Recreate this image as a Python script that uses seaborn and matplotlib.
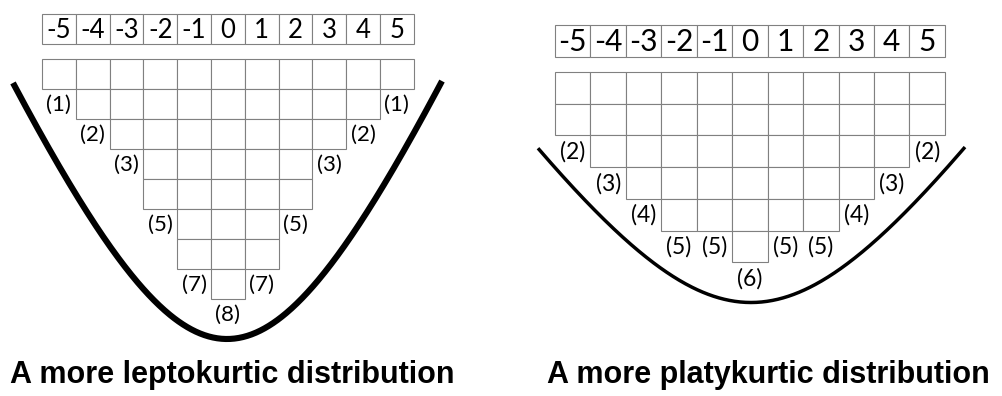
import numpy as np
import matplotlib
matplotlib.use("Agg")
import matplotlib.pyplot as plt
import seaborn as sns

# ---- data ----
scores = [-5, -4, -3, -2, -1, 0, 1, 2, 3, 4, 5]
lepto_counts = [1, 2, 3, 5, 7, 8, 7, 5, 3, 2, 1]
platy_counts = [2, 3, 4, 5, 5, 6, 5, 5, 4, 3, 2]
titles = ["A more leptokurtic distribution", "A more platykurtic distribution"]

sns.set_theme(style="white")
plt.rcParams['font.family'] = ['Lato', 'DejaVu Sans']

W, H = 1003, 396
fig = plt.figure(figsize=(W / 100, H / 100), dpi=100)
ax = fig.add_axes([0, 0, 1, 1])
ax.set_xlim(0, W)
ax.set_ylim(H, 0)
ax.axis("off")

EDGE = "#808080"

panels = [
    dict(counts=lepto_counts, x0=42, w=33.8, htop=14, hh=30, gtop=59.3, h=30,
         hfs=18.5, lfs=16, title=titles[0], tx=232,
         curve=dict(xl=13, xr=442, xm=227, ym=339, s=2.3, r=150, lw=4.4)),
    dict(counts=platy_counts, x0=555, w=35.45, htop=24.7, hh=32, gtop=72, h=31.7,
         hfs=21.5, lfs=16.5, title=titles[1], tx=768,
         curve=dict(xl=538, xr=965, xm=751, ym=302.5, s=1.45, r=160, lw=2.5)),
]

for p in panels:
    w = p["w"]
    centers = np.array([p["x0"] + w * (i + 0.5) for i in range(len(scores))])
    # header row
    ax.bar(centers, p["hh"], bottom=p["htop"], width=w, color="white",
           edgecolor=EDGE, linewidth=0.8, zorder=2)
    for cx, s in zip(centers, scores):
        ax.text(cx, p["htop"] + p["hh"] / 2 + 1, str(s), ha="center", va="center",
                fontsize=p["hfs"], color="black", zorder=3)
    # stacked cells
    counts = np.array(p["counts"])
    for r in range(counts.max()):
        sel = counts > r
        ax.bar(centers[sel], p["h"], bottom=p["gtop"] + r * p["h"], width=w,
               color="white", edgecolor=EDGE, linewidth=0.8, zorder=2)
    # count labels
    for cx, c in zip(centers, counts):
        ax.text(cx, p["gtop"] + (c + 0.52) * p["h"], f"({c})", ha="center",
                va="center", fontsize=p["lfs"], color="black", zorder=3)
    # curve
    cv = p["curve"]
    xs = np.linspace(cv["xl"], cv["xr"], 400)
    dx = xs - cv["xm"]
    ys = cv["ym"] - cv["s"] * (np.sqrt(cv["r"] ** 2 + dx ** 2) - cv["r"])
    ax.plot(xs, ys, color="black", linewidth=cv["lw"], solid_capstyle="butt", zorder=4)
    # title
    ax.text(p["tx"], 383, p["title"], ha="center", va="baseline", fontsize=22,
            fontweight="bold", family=["Liberation Sans", "DejaVu Sans"], color="black")

fig.savefig("out.png", dpi=100, facecolor="white")
